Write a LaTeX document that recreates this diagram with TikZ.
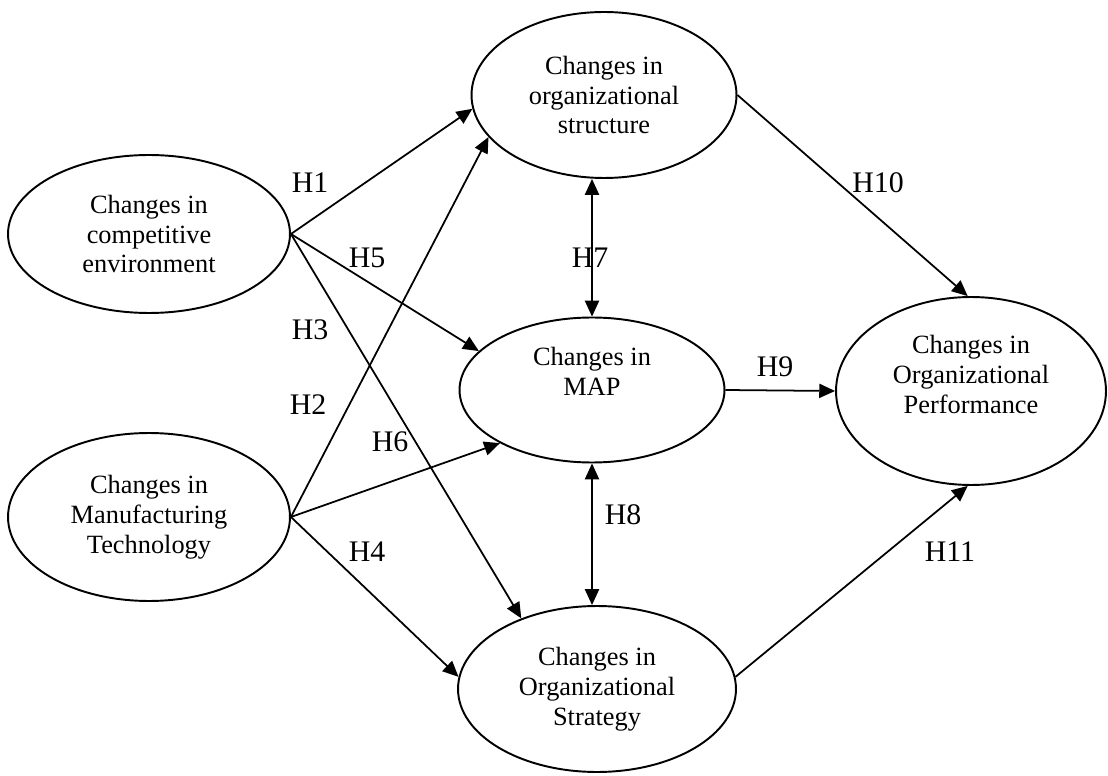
\documentclass[tikz,border=0pt]{standalone}
\usepackage{fontspec}
\setmainfont{Liberation Serif}
\usetikzlibrary{arrows.meta,positioning,shapes.geometric}

\begin{document}
\begin{tikzpicture}[x=0.02cm,y=-0.02cm]
	\useasboundingbox (0,0) rectangle (1108,776);
	\begin{scope}[every node/.style={ellipse,draw,line width=1.1pt,align=center,inner sep=0pt,font=\fontsize{15}{17}\selectfont}]
		\node[minimum width=5.64cm,minimum height=3.16cm] (comp) at (149,234) {Changes in\\competitive\\environment};
		\node[minimum width=5.64cm,minimum height=3.36cm] (manu) at (149,517) {Changes in\\Manufacturing\\Technology};
		\node[minimum width=5.3cm,minimum height=3.32cm] (struc) at (604,95) {Changes in\\organizational\\structure};
		\node[minimum width=5.3cm,minimum height=2.9cm] (map) at (592,390) {Changes in\\MAP\\[4pt]};
		\node[minimum width=5.56cm,minimum height=3.32cm] (strat) at (597,689) {Changes in\\Organizational\\Strategy};
		\node[minimum width=5.4cm,minimum height=3.76cm] (perf) at (971,391) {Changes in\\Organizational\\Performance\\[2pt]};
	\end{scope}
	
	\begin{scope}[every node/.style={font=\fontsize{17}{20}\selectfont}]
		\node (H1) at (310,183) {H1};
		\node (H2) at (308,405) {H2};
		\node (H3) at (310,330) {H3};
		\node (H4) at (367,552) {H4};
		\node (H5) at (367,258) {H5};
		\node (H6) at (390,442) {H6};
		\node (H7) at (590,258) {H7};
		\node (H8) at (623,515) {H8};
		\node (H9) at (775,367) {H9};
		\node (H10) at (878,183) {H10};
		\node (H11) at (950,552) {H11};
	\end{scope}
	
	\begin{scope}[line width=1pt,-{Triangle[length=9pt,width=8pt]}]
	\draw (comp.east) -- (struc.186);
	\draw (comp.east) -- (map.161);
	\draw (comp.east) -- (strat.137);
	\draw (manu.east) -- (struc.200);
	\draw (manu.east) -- (map.210);
	\draw (manu.east) -- (strat.175);
	\draw[{Triangle[length=9pt,width=8pt]}-{Triangle[length=9pt,width=8pt]}] (map.north) -- (map.north|-struc.south);
	\draw[{Triangle[length=9pt,width=8pt]}-{Triangle[length=9pt,width=8pt]}] (map.south) -- (map.south|-strat.north);
	\draw (map.east) -- (perf.west);
	\draw (struc.east) -- (perf.92);
	\draw (strat.5) -- (perf.268);

	\end{scope}
\end{tikzpicture}
\end{document}
